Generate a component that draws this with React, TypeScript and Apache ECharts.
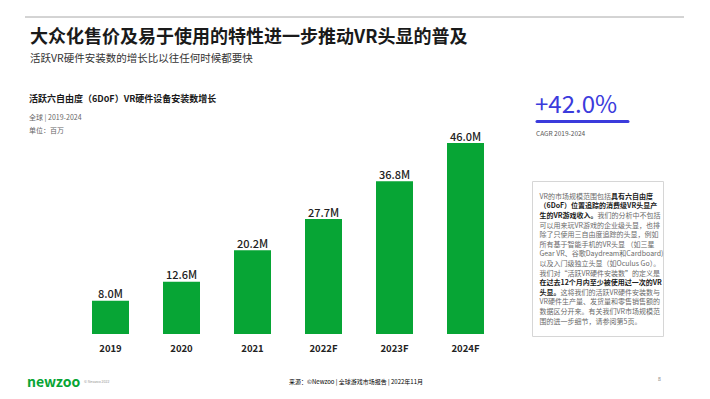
import React, { useEffect, useRef } from "react";
import * as echarts from "echarts";

const categories = ["2019", "2020", "2021", "2022F", "2023F", "2024F"];
const installs = [8.0, 12.6, 20.2, 27.7, 36.8, 46.0];

const FONT = "'Noto Sans CJK SC', 'Noto Sans', sans-serif";
const GREEN = "#07a535";
const BLUE = "#3b3bdc";

const boxLines: [string, boolean][][] = [
  [["VR的市场规模范围包括", false], ["具有六自由度", true]],
  [["（6DoF）位置追踪的消费级VR头显产", true]],
  [["生的VR游戏收入。", true], ["我们的分析中不包括", false]],
  [["可以用来玩VR游戏的企业级头显，也排", false]],
  [["除了只使用三自由度追踪的头显，例如", false]],
  [["所有基于智能手机的VR头显 （如三星", false]],
  [["Gear VR、谷歌Daydream和Cardboard)", false]],
  [["以及入门级独立头显（如Oculus Go）。", false]],
  [["我们对“活跃VR硬件安装数”的定义是", false]],
  [["在过去12个月内至少被使用过一次的VR", true]],
  [["头显。", true], ["这将我们的活跃VR硬件安装数与", false]],
  [["VR硬件生产量、发货量和零售销售额的", false]],
  [["数据区分开来。有关我们VR市场规模范", false]],
  [["围的进一步细节，请参阅第5页。", false]],
];

export default function App() {
  const ref = useRef<HTMLDivElement>(null);
  useEffect(() => {
    if (!ref.current) return;
    const chart = echarts.init(ref.current, undefined, { renderer: "svg" });
    const boxText = boxLines
      .map((line) => line.map(([t, b]) => `{${b ? "b" : "n"}|${t}}`).join(""))
      .join("\n");
    chart.setOption({
      animation: false,
      backgroundColor: "#ffffff",
      textStyle: { fontFamily: FONT },
      grid: { left: 75, right: 209, top: 126.5, bottom: 65 },
      xAxis: {
        type: "category",
        data: categories,
        axisLine: { show: false },
        axisTick: { show: false },
        axisLabel: {
          color: "#222",
          fontSize: 9.5,
          fontWeight: "bold",
          fontFamily: FONT,
          margin: 9,
        },
      },
      yAxis: { type: "value", min: 0, max: 50, show: false, splitLine: { show: false } },
      series: [
        {
          type: "bar",
          data: installs,
          barWidth: 37,
          itemStyle: { color: GREEN },
          label: {
            show: true,
            position: "top",
            distance: 2,
            color: "#222",
            fontSize: 11,
            fontWeight: 500,
            fontFamily: FONT,
            formatter: (p: any) => `${Number(p.value).toFixed(1)}M`,
          },
        },
      ],
      graphic: [
        { type: "line", shape: { x1: 25, y1: 17, x2: 684, y2: 17 }, style: { stroke: "#a8a8a8", lineWidth: 1 } },
        { type: "text", x: 30, y: 35, style: { text: "大众化售价及易于使用的特性进一步推动VR头显的普及", font: `bold 18px ${FONT}`, fill: "#1a1a1a", verticalAlign: "middle" } },
        { type: "text", x: 30, y: 57, style: { text: "活跃VR硬件安装数的增长比以往任何时候都要快", font: `10.5px ${FONT}`, fill: "#333", verticalAlign: "middle" } },
        { type: "text", x: 29, y: 98, style: { text: "活跃六自由度（6DoF）VR硬件设备安装数增长", font: `bold 9px ${FONT}`, fill: "#1a1a1a", verticalAlign: "middle" } },
        { type: "text", x: 29, y: 117, style: { text: "全球 | 2019-2024", font: `7px ${FONT}`, fill: "#666", verticalAlign: "middle" } },
        { type: "text", x: 29, y: 129.5, style: { text: "单位：百万", font: `7px ${FONT}`, fill: "#666", verticalAlign: "middle" } },
        { type: "text", x: 535, y: 102, style: { text: "+42.0%", font: `24px ${FONT}`, fill: BLUE, verticalAlign: "middle" } },
        { type: "line", shape: { x1: 537, y1: 121.5, x2: 628, y2: 121.5 }, style: { stroke: BLUE, lineWidth: 3, lineCap: "round" } },
        { type: "text", x: 536, y: 133, style: { text: "CAGR 2019-2024", font: `6.5px ${FONT}`, fill: "#555", verticalAlign: "middle" } },
        { type: "rect", shape: { x: 532.5, y: 181.5, width: 131, height: 155 }, style: { fill: "#fff", stroke: "#d6d6d6", lineWidth: 1 } },
        {
          type: "text",
          x: 539.5,
          y: 191,
          style: {
            text: boxText,
            fill: "#666",
            verticalAlign: "top",
            rich: {
              n: { fontFamily: FONT, fontSize: 7, lineHeight: 9.6, fill: "#6a6a6a", color: "#6a6a6a" },
              b: { fontFamily: FONT, fontSize: 7, lineHeight: 9.6, fontWeight: "bold", fill: "#1a1a1a", color: "#1a1a1a" },
            },
          },
        },
        { type: "text", x: 27, y: 381, style: { text: "newzoo", font: `bold 14px ${FONT}`, fill: GREEN, verticalAlign: "middle" } },
        { type: "text", x: 84, y: 381, style: { text: "© Newzoo 2022", font: `3.5px ${FONT}`, fill: "#999", verticalAlign: "middle" } },
        {
          type: "text",
          x: 289,
          y: 381,
          style: {
            text: "{a|来源：©Newzoo | }{u|全球游戏市场报告}{a| | 2022年11月}",
            verticalAlign: "middle",
            rich: {
              a: { fontFamily: FONT, fontSize: 6, color: "#666" },
              u: { fontFamily: FONT, fontSize: 6, color: "#777", textDecoration: "underline" },
            },
          },
        },
        { type: "text", x: 658, y: 378, style: { text: "8", font: `5px ${FONT}`, fill: "#666", verticalAlign: "middle" } },
      ],
    });
    return () => chart.dispose();
  }, []);
  return <div ref={ref} style={{ position: "fixed", left: 0, top: 0, width: 710, height: 399 }} />;
}
